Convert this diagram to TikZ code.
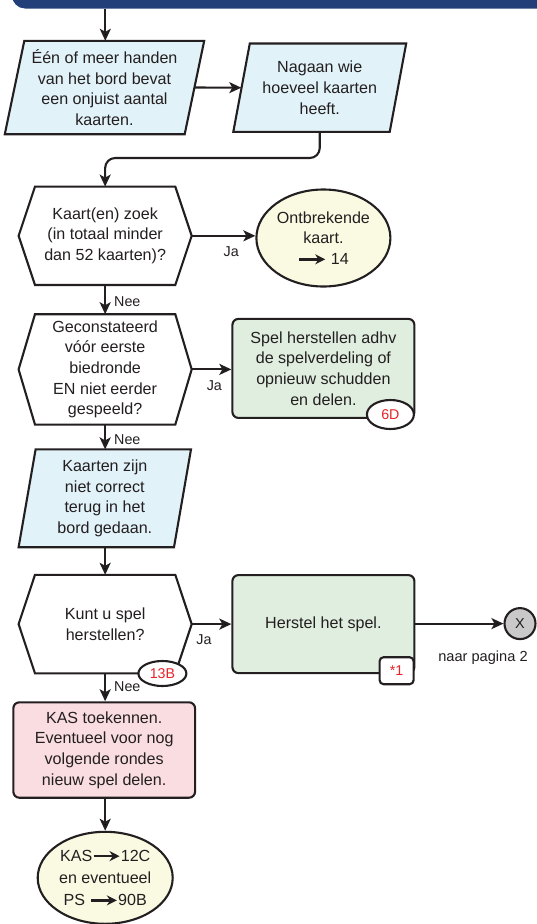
\documentclass[tikz,border=0pt]{standalone}
\usepackage{fontspec}
\setmainfont{Liberation Sans}
\usetikzlibrary{shapes.geometric,arrows.meta,calc}
\definecolor{banner}{HTML}{223F7A}
\definecolor{linec}{HTML}{231F20}
\definecolor{lblue}{HTML}{E1F2F8}
\definecolor{lgreen}{HTML}{E0EEDF}
\definecolor{lyellow}{HTML}{FAFAE2}
\definecolor{lpink}{HTML}{FADDE1}
\definecolor{lgray}{HTML}{C9C9C9}
\definecolor{badgered}{HTML}{E8232A}
\newcommand{\bigarr}{\tikz[baseline=-0.6ex]\draw[linec,line width=2.6pt,-{Stealth[length=10pt,width=10pt]}] (0pt,0pt)--(26pt,0pt);}
\newcommand{\hexpath}[1]{\draw[shapeline,fill=white] (#1.west) -- ([xshift=16.4pt]#1.north west) -- ([xshift=-16.4pt]#1.north east) -- (#1.east) -- ([xshift=-16.4pt]#1.south east) -- ([xshift=16.4pt]#1.south west) -- cycle;}
\newcommand{\parapath}[2]{\draw[shapeline,fill=lblue] (#1.south west) -- ([xshift=#2]#1.north west) -- (#1.north east) -- ([xshift=-#2]#1.south east) -- cycle;}
\tikzset{
  txt/.style={align=center,font=\fontsize{16.1}{20.6}\selectfont,text=linec,inner sep=0pt},
  box/.style={rectangle,inner sep=0pt},
  shapeline/.style={draw=linec,line width=2.1pt,line join=miter},
  rbox/.style={txt,shapeline,rounded corners=6pt},
  conn/.style={draw=linec,line width=2.1pt,-{Stealth[length=12pt,width=11pt,inset=3pt]}},
  lbl/.style={font=\fontsize{14.3}{16}\selectfont,text=linec,inner sep=0pt},
  badge/.style={ellipse,draw=linec,line width=2.1pt,fill=white,text=badgered,font=\fontsize{14.2}{16}\selectfont,inner sep=0pt},
}
\begin{document}
\begin{tikzpicture}[x=1pt,y=-1pt]
\useasboundingbox (0,0) rectangle (536,924);
% banner
\fill[banner,rounded corners=13pt] (12,-30) rectangle (560,8.5);
\coordinate (top) at (105.3,8.5);
% parallelograms
\node[box,minimum width=199pt,minimum height=93pt] (p1) at (104.5,87.5) {};
\parapath{p1}{19.5pt}
\node[txt] at (p1.center) {Één of meer handen\\van het bord bevat\\een onjuist aantal\\kaarten.};
\node[box,minimum width=172.5pt,minimum height=88pt] (p2) at (319.75,87.7) {};
\parapath{p2}{16.5pt}
\node[txt] at (p2.center) {Nagaan wie\\hoeveel kaarten\\heeft.};
% hexagons
\node[box,minimum width=172.7pt,minimum height=98pt] (h1) at (105.15,235.8) {};
\hexpath{h1}
\node[txt] at (h1.center) {Kaart(en) zoek\\(in totaal minder\\dan 52 kaarten)?};
\node[box,minimum width=172.7pt,minimum height=110pt] (h2) at (105.15,369.4) {};
\hexpath{h2}
\node[txt] at (h2.center) {Geconstateerd\\vóór eerste\\biedronde\\EN niet eerder\\gespeeld?};
\node[box,minimum width=172pt,minimum height=97.4pt] (p3) at (104.8,498.3) {};
\parapath{p3}{17pt}
\node[txt] at (p3.center) {Kaarten zijn\\niet correct\\terug in het\\bord gedaan.};
\node[box,minimum width=172.7pt,minimum height=98.2pt] (h3) at (105.15,624.1) {};
\hexpath{h3}
\node[txt] at (h3.center) {Kunt u spel\\herstellen?};
% right side
\node[txt,ellipse,shapeline,fill=lyellow,minimum width=134pt,minimum height=97pt] (e1) at (323.4,238) {Ontbrekende\\kaart.\\\bigarr\ 14};
\node[rbox,fill=lgreen,minimum width=182pt,minimum height=99pt] (g1) at (323.4,368.4) {Spel herstellen adhv\\de spelverdeling of\\opnieuw schudden\\en delen.};
\node[badge,minimum width=47pt,minimum height=29pt] (b6d) at (390.4,414.5) {6D};
\node[rbox,fill=lgreen,minimum width=182pt,minimum height=98pt] (g2) at (323.4,624.1) {Herstel het spel.};
\node[rectangle,rounded corners=4pt,draw=linec,line width=2.1pt,fill=white,text=badgered,font=\fontsize{14.2}{16}\selectfont,minimum width=34pt,minimum height=27pt,inner sep=0pt] (b1) at (396.6,670.7) {*1};
\node[badge,minimum width=48pt,minimum height=25pt] (b13) at (162.4,673.5) {13B};
\node[circle,shapeline,fill=lgray,minimum size=31pt,inner sep=0pt,font=\fontsize{14.4}{16}\selectfont,text=linec] (x) at (520,623.6) {X};
\node[lbl,font=\fontsize{14.6}{16}\selectfont] (np) at (483,657.8) {naar pagina 2};
% bottom
\node[rbox,fill=lpink,minimum width=181.7pt,minimum height=95.4pt] (pk) at (104.2,750) {KAS toekennen.\\Eventueel voor nog\\volgende rondes\\nieuw spel delen.};
\node[txt,ellipse,shapeline,fill=lyellow,minimum width=135pt,minimum height=92pt] (e2) at (105.2,877.8) {KAS\bigarr 12C\\[1.5pt]en eventueel\\[1.5pt]PS \bigarr 90B};
% connectors
\coordinate (bend) at (200,158);
\draw[conn] (top) -- (p1.north -| top);
\draw[conn] ([xshift=-9.5pt]p1.east) -- ([xshift=8pt]p2.west);
\draw[conn,rounded corners=10pt] (p2.south) |- (bend) -| (h1.north);
\draw[conn] (h1.east) -- (h1.east -| e1.west) node[lbl,pos=0.62,below=10pt] {Ja};
\draw[conn] (h1.south) -- (h2.north) node[lbl,midway,right=8pt,yshift=-2pt] {Nee};
\draw[conn] (h2.east) -- (h2.east -| g1.west) node[lbl,pos=0.57,below=10pt] {Ja};
\draw[conn] (h2.south) -- (p3.north -| h2.south) node[lbl,midway,right=8pt,yshift=-2.5pt] {Nee};
\draw[conn] (p3.south -| h3.north) -- (h3.north);
\draw[conn] (h3.east) -- (h3.east -| g2.west) node[lbl,pos=0.31,below=10pt] {Ja};
\draw[conn] (g2.east |- x.west) -- (x.west);
\draw[conn] (h3.south) -- (pk.north -| h3.south) node[lbl,midway,right=8pt,yshift=1pt] {Nee};
\draw[conn] (pk.south -| e2.north) -- (e2.north);
\end{tikzpicture}
\end{document}
